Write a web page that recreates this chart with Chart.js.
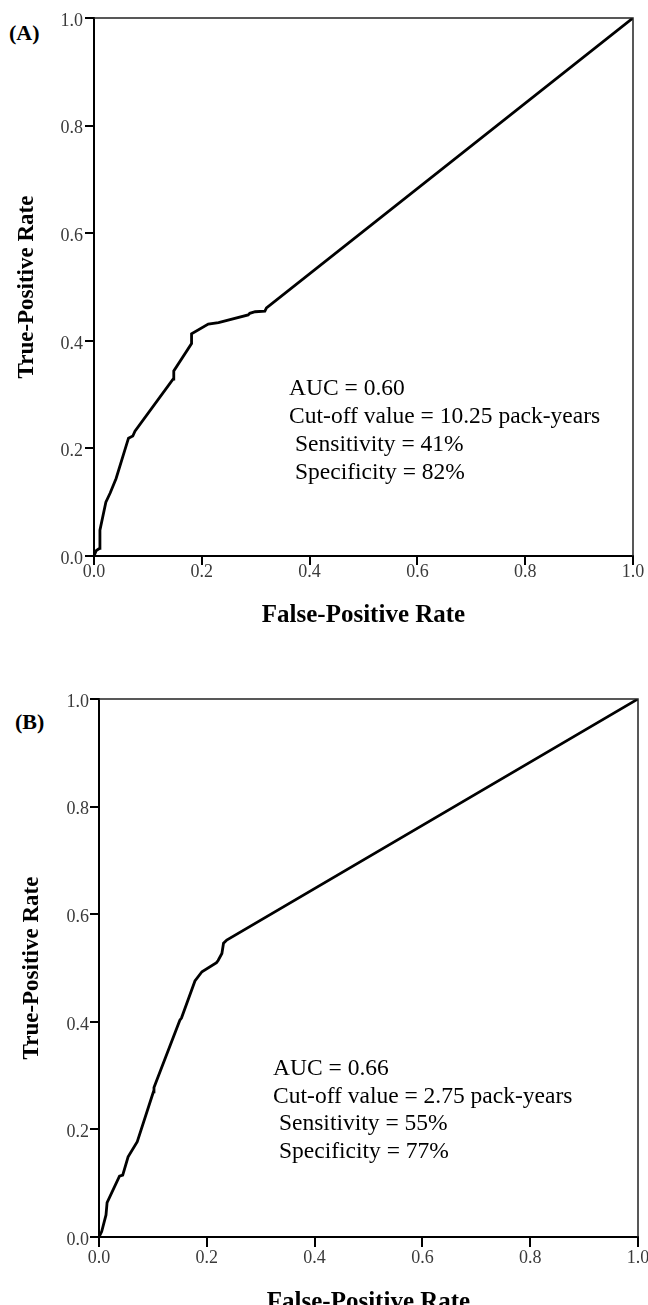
<!DOCTYPE html>
<html>
<head>
<meta charset="utf-8">
<script src="https://cdn.jsdelivr.net/npm/chart.js@4/dist/chart.umd.min.js"></script>
<style>
  html, body { margin: 0; padding: 0; background: #fff; }
  body { width: 648px; height: 1305px; overflow: hidden; position: relative; }
  canvas { position: absolute; left: 0; }
  #chartA { top: 0; }
  #chartB { top: 650px; }
  .panel { position: absolute; font: bold 22px "Liberation Serif", "Times New Roman", serif; line-height: 22px; color: #000; }
</style>
</head>
<body>
<div class="panel" style="left:9px; top:22px;">(A)</div>
<div class="panel" style="left:15px; top:711px;">(B)</div>
<canvas id="chartA" width="648" height="650"></canvas>
<canvas id="chartB" width="648" height="680"></canvas>
<script>
// ROC curve A (pack-years, cut-off 10.25)
const fprA = [0, 0.004, 0.01, 0.011, 0.022, 0.03, 0.041, 0.064, 0.072, 0.076, 0.147, 0.148, 0.181, 0.181, 0.212, 0.231, 0.286, 0.289, 0.299, 0.317, 0.32, 1];
const tprA = [0, 0.01, 0.014, 0.048, 0.10, 0.117, 0.144, 0.219, 0.223, 0.232, 0.329, 0.344, 0.395, 0.413, 0.431, 0.434, 0.448, 0.451, 0.454, 0.455, 0.461, 1];

// ROC curve B (pack-years, cut-off 2.75)
const fprB = [0, 0.005, 0.013, 0.015, 0.038, 0.044, 0.054, 0.071, 0.101, 0.102, 0.150, 0.153, 0.178, 0.191, 0.218, 0.221, 0.228, 0.231, 0.237, 1];
const tprB = [0, 0.01, 0.041, 0.064, 0.113, 0.115, 0.149, 0.177, 0.27, 0.278, 0.403, 0.407, 0.476, 0.493, 0.51, 0.514, 0.527, 0.546, 0.552, 1];

// tick values, same on both axes
const tickValues = [0, 0.2, 0.4, 0.6, 0.8, 1.0];

// text boxes inside the plots
const noteA = ["AUC = 0.60", "Cut-off value = 10.25 pack-years", " Sensitivity = 41%", " Specificity = 82%"];
const noteB = ["AUC = 0.66", "Cut-off value = 2.75 pack-years", " Sensitivity = 55%", " Specificity = 77%"];

const serif = '"Liberation Serif", "Times New Roman", serif';

// draws the frame (top/right) and the note text
const rocExtras = {
    id: "rocExtras",
    afterDraw(chart, args, opts) {
        const { ctx, chartArea } = chart;
        ctx.save();
        ctx.strokeStyle = "#222";
        ctx.lineWidth = 1.5;
        ctx.beginPath();
        ctx.moveTo(chartArea.left, chartArea.top);
        ctx.lineTo(chartArea.right, chartArea.top);
        ctx.lineTo(chartArea.right, chartArea.bottom);
        ctx.stroke();

        const x = chart.scales.x.getPixelForValue(opts.x);
        let y = chart.scales.y.getPixelForValue(opts.y);
        ctx.fillStyle = "#000";
        ctx.font = "23.5px " + serif;
        ctx.textAlign = "left";
        ctx.textBaseline = "alphabetic";
        opts.lines.forEach(line => {
            ctx.fillText(line, x, y);
            y += opts.step;
        });
        ctx.restore();
    }
};

function renderRoc(canvasId, fpr, tpr, note, cfg) {
    const points = fpr.map((v, i) => ({ x: v, y: tpr[i] }));
    const ctx = document.getElementById(canvasId).getContext("2d");

    return new Chart(ctx, {
        type: "line",
        data: {
            datasets: [{
                data: points,
                borderColor: "#000",
                borderWidth: 2.8,
                pointRadius: 0,
                tension: 0,
                fill: false
            }]
        },
        options: {
            responsive: false,
            animation: false,
            events: [],
            layout: { padding: cfg.padding },
            plugins: {
                legend: { display: false },
                tooltip: { enabled: false },
                rocExtras: { lines: note, x: cfg.noteX, y: cfg.noteY, step: cfg.noteStep }
            },
            scales: {
                x: {
                    type: "linear",
                    min: 0,
                    max: 1,
                    afterBuildTicks: s => { s.ticks = tickValues.map(v => ({ value: v })); },
                    afterFit: s => { s.height = cfg.xHeight; s.paddingLeft = 0; s.paddingRight = 0; },
                    border: { display: true, color: "#000", width: 2 },
                    grid: { drawOnChartArea: false, drawTicks: true, tickLength: cfg.xTick, color: "#000", lineWidth: 2 },
                    ticks: {
                        padding: cfg.xLabelPad,
                        color: "#3a3a3a",
                        font: { family: serif, size: 18 },
                        callback: v => v.toFixed(1)
                    },
                    title: {
                        display: true,
                        text: "False-Positive Rate",
                        color: "#000",
                        font: { family: serif, size: 25, weight: "bold" },
                        padding: { top: 0, bottom: cfg.xTitlePad }
                    }
                },
                y: {
                    type: "linear",
                    min: 0,
                    max: 1,
                    afterBuildTicks: s => { s.ticks = tickValues.map(v => ({ value: v })); },
                    afterFit: s => { s.width = cfg.yWidth; s.paddingTop = 0; s.paddingBottom = 0; },
                    border: { display: true, color: "#000", width: 2 },
                    grid: { drawOnChartArea: false, drawTicks: true, tickLength: 9, color: "#000", lineWidth: 2 },
                    ticks: {
                        padding: cfg.yLabelPad,
                        labelOffset: 3,
                        color: "#3a3a3a",
                        font: { family: serif, size: 18 },
                        callback: v => v.toFixed(1)
                    },
                    title: {
                        display: true,
                        text: "True-Positive Rate",
                        color: "#000",
                        font: { family: serif, size: 23, weight: "bold" },
                        padding: { top: cfg.yTitlePad, bottom: 0 }
                    }
                }
            }
        },
        plugins: [rocExtras]
    });
}

// panel A: plot area 94..633 x 18..556
renderRoc("chartA", fprA, tprA, noteA, {
    padding: { top: 18, left: 0, right: 15, bottom: 14 },
    xHeight: 80, yWidth: 94,
    xTick: 9, xLabelPad: -4, xTitlePad: 5,
    yLabelPad: 2, yTitlePad: 13.7,
    noteX: 0.362, noteY: 0.299, noteStep: 28
});

// panel B: plot area 99..638 x 699..1237 (canvas starts at 650)
renderRoc("chartB", fprB, tprB, noteB, {
    padding: { top: 49, left: 0, right: 10, bottom: 3 },
    xHeight: 90, yWidth: 99,
    xTick: 10, xLabelPad: 0.3, xTitlePad: 9,
    yLabelPad: 1, yTitlePad: 17.9,
    noteX: 0.323, noteY: 0.301, noteStep: 27.7
});
</script>
</body>
</html>
